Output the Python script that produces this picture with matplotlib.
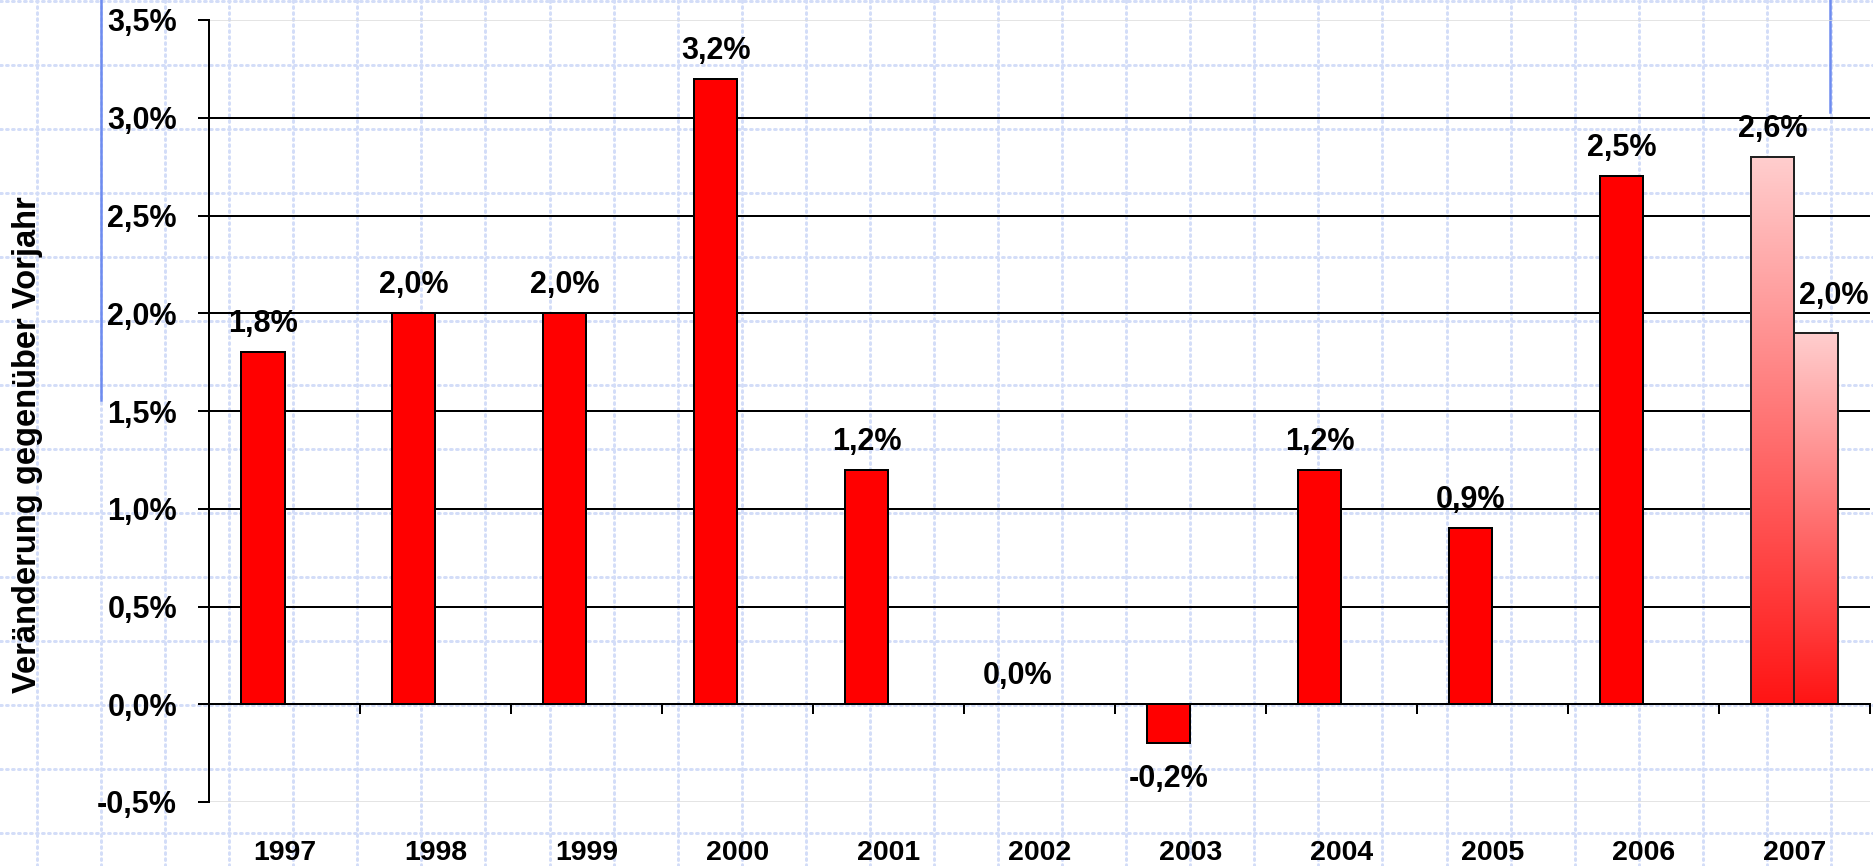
import numpy as np
import matplotlib
matplotlib.use("Agg")
import matplotlib.pyplot as plt
from matplotlib.lines import Line2D
from matplotlib.ticker import FuncFormatter

# ---------------- data ----------------
years = ["1997", "1998", "1999", "2000", "2001", "2002", "2003",
         "2004", "2005", "2006", "2007"]
series1_values = [1.8, 2.0, 2.0, 3.2, 1.2, 0.0, -0.2, 1.2, 0.9, 2.7, 2.8]
series1_labels = ["1,8%", "2,0%", "2,0%", "3,2%", "1,2%", "0,0%", "-0,2%",
                  "1,2%", "0,9%", "2,5%", "2,6%"]
series2_years = ["2007"]
series2_values = [1.9]
series2_labels = ["2,0%"]
gradient_years = ["2007"]          # forecast bars drawn with gradient
y_ticks = [-0.5, 0.0, 0.5, 1.0, 1.5, 2.0, 2.5, 3.0, 3.5]
y_label = "Veränderung gegenüber Vorjahr"

# ---------------- figure ----------------
W, H = 1873, 866
DPI = 100
plt.rcParams["font.family"] = ["Liberation Sans", "DejaVu Sans"]
plt.rcParams["font.weight"] = "bold"
fig = plt.figure(figsize=(W / DPI, H / DPI), dpi=DPI, facecolor="white")

def px(v):  # pixels -> points
    return v * 72.0 / DPI

# decorative checkered background (dotted light-blue lines)
grid_col = "#d3ddf8"
for k in range(0, 14):
    yf = 1 - (k * 64 + 1) / H
    fig.add_artist(Line2D([0, 1], [yf, yf], transform=fig.transFigure,
                          color=grid_col, lw=px(3), linestyle=(0, (0.6, 1.4)),
                          dash_capstyle="round", zorder=-5))
for k in range(0, 29):
    xf = (37 + 64.07 * k) / W
    fig.add_artist(Line2D([xf, xf], [0, 1], transform=fig.transFigure,
                          color=grid_col, lw=px(3), linestyle=(0, (0.6, 1.4)),
                          dash_capstyle="round", zorder=-5))
# blue accent lines
accent = "#6e8cf0"
fig.add_artist(Line2D([101 / W, 101 / W], [1, 1 - 400 / H], transform=fig.transFigure,
                      color=accent, lw=px(2.5), zorder=-4))
fig.add_artist(Line2D([1830 / W, 1830 / W], [1, 1 - 112 / H], transform=fig.transFigure,
                      color=accent, lw=px(2.5), zorder=-4))

left, right, top, bottom = 209, 1870, 20, 802
ax = fig.add_axes([left / W, 1 - bottom / H, (right - left) / W, (bottom - top) / H])
ax.patch.set_alpha(0)

x = np.arange(len(years))
bw = 0.285

ax.set_xlim(-0.5, len(years) - 0.5)
ax.set_ylim(y_ticks[0], y_ticks[-1])

# horizontal grid lines
for v in y_ticks:
    if v in (y_ticks[0], y_ticks[-1]):
        ax.axhline(v, color="#dcdcdc", lw=px(1.5), zorder=0.5)
    elif v != 0:
        ax.axhline(v, color="black", lw=px(2), zorder=0.5)

def gradient_bar(xc, val):
    rect = ax.bar(xc, val, width=bw, facecolor="none", edgecolor="#222222",
                  linewidth=px(2), zorder=3)[0]
    top_c = np.array([255, 206, 206]) / 255.0
    bot_c = np.array([255, 20, 20]) / 255.0
    t = np.linspace(0, 1, 256)[:, None]
    grad = (top_c[None, :] * (1 - t) + bot_c[None, :] * t)[:, None, :]
    im = ax.imshow(grad, extent=[xc - bw / 2, xc + bw / 2, 0, val],
                   aspect="auto", origin="upper", zorder=2, interpolation="bilinear")
    im.set_clip_path(rect)

# series 1
for i, (yr, v) in enumerate(zip(years, series1_values)):
    xc = x[i] - bw / 2
    if yr in gradient_years:
        gradient_bar(xc, v)
    else:
        ax.bar(xc, v, width=bw, color="#ff0000", edgecolor="black",
               linewidth=px(2), zorder=3)
# series 2
for yr, v in zip(series2_years, series2_values):
    i = years.index(yr)
    xc = x[i] + bw / 2
    gradient_bar(xc, v)

ax.set_xlim(-0.5, len(years) - 0.5)
ax.set_ylim(y_ticks[0], y_ticks[-1])

# value labels
lab_fs = 22
for i, (v, s) in enumerate(zip(series1_values, series1_labels)):
    xc = x[i] - bw / 2
    if v < 0:
        ax.annotate(s, (xc, v), xytext=(0, -px(44)), textcoords="offset points",
                    ha="center", va="baseline", fontsize=lab_fs, fontweight="bold")
    else:
        ax.annotate(s, (xc, v), xytext=(0, px(20)), textcoords="offset points",
                    ha="center", va="baseline", fontsize=lab_fs, fontweight="bold")
for yr, v, s in zip(series2_years, series2_values, series2_labels):
    i = years.index(yr)
    xc = x[i] + bw / 2
    ax.annotate(s, (xc, v), xytext=(px(18), px(29)), textcoords="offset points",
                ha="center", va="baseline", fontsize=lab_fs, fontweight="bold")

# spines & axes
for s in ("top", "right"):
    ax.spines[s].set_visible(False)
ax.spines["left"].set_linewidth(px(2))
ax.spines["bottom"].set_position(("data", 0))
ax.spines["bottom"].set_linewidth(px(2))
ax.spines["bottom"].set_zorder(4)

ax.set_xticks(np.arange(0.5, len(years), 1.0))
ax.tick_params(axis="x", direction="out", length=px(10), width=px(2),
               labelbottom=False)
ax.set_yticks(y_ticks)
ax.yaxis.set_major_formatter(FuncFormatter(lambda v, p: f"{v:.1f}%".replace(".", ",")))
ax.tick_params(axis="y", direction="out", length=px(11), width=px(2),
               pad=px(21), labelsize=22)
for t in ax.get_yticklabels():
    t.set_fontweight("bold")

sec = ax.secondary_xaxis("bottom")
sec.set_xticks(x)
sec.set_xticklabels(years, fontsize=20.5, fontweight="bold")
sec.tick_params(length=0, pad=px(38))
sec.spines["bottom"].set_visible(False)

ax.set_ylabel(y_label, fontsize=23.5, fontweight="bold")
ax.yaxis.label.set_verticalalignment("center")
ax.yaxis.set_label_coords((27 - left) / (right - left), 1 - (445 - top) / (bottom - top))

fig.savefig("out.png", dpi=DPI, facecolor="white")
